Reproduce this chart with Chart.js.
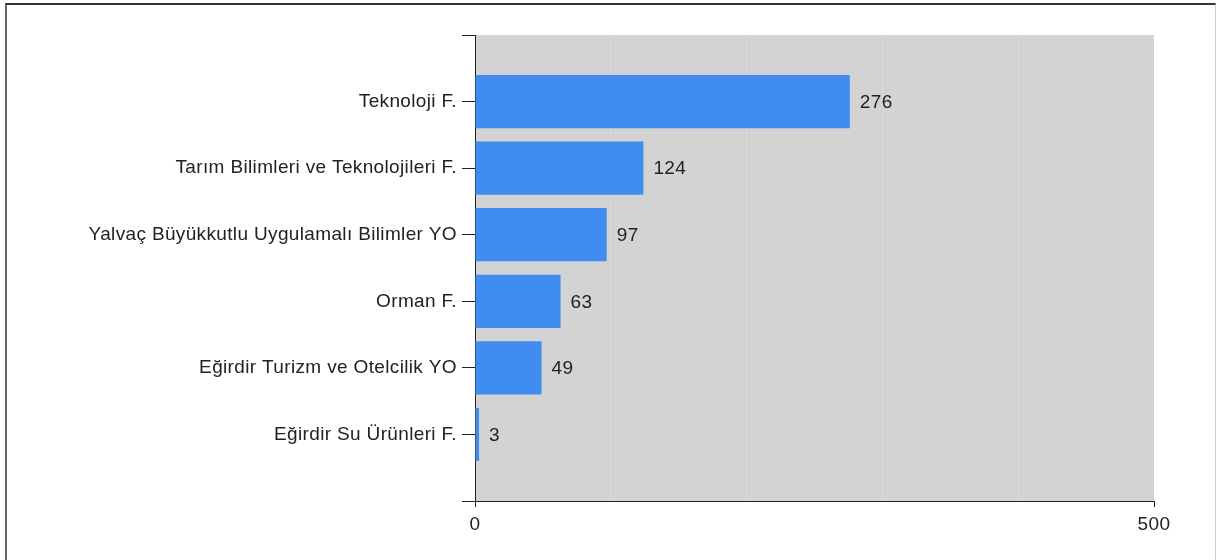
<!DOCTYPE html>
<html>
<head>
<meta charset="utf-8">
<script src="https://cdn.jsdelivr.net/npm/chart.js@4"></script>
<style>
  html, body { margin: 0; padding: 0; background: #fff; }
  #wrap { position: relative; width: 1216px; height: 560px; }
  #frame { position: absolute; left: 5px; top: 3px; width: 1208px; height: 570px;
           border-top: 2px solid #333; border-left: 2px solid #666; border-right: 1px solid #ccc; }
  canvas { position: absolute; left: 0; top: 0; }
</style>
</head>
<body>
<div id="wrap">
  <div id="frame"></div>
  <canvas id="chart" width="1216" height="560"></canvas>
</div>
<script>
// data
const faculties = ['Teknoloji F.', 'Tarım Bilimleri ve Teknolojileri F.', 'Yalvaç Büyükkutlu Uygulamalı Bilimler YO',
                   'Orman F.', 'Eğirdir Turizm ve Otelcilik YO', 'Eğirdir Su Ürünleri F.'];
const counts = [276, 124, 97, 63, 49, 3];
const xTicksShown = [0, 500];

// empty slots at top and bottom so the categories sit between the end ticks
const labels = [''].concat(faculties, ['']);
const values = [null].concat(counts, [null]);

const font = { family: 'Arial, "Liberation Sans", sans-serif', size: 19 };

const plotBg = {
    id: 'plotBg',
    beforeDraw(chart) {
        const ctx = chart.ctx;
        const a = chart.chartArea;
        // reference text is a bit wider than Liberation Sans
        ctx.letterSpacing = '0.35px';
        ctx.save();
        ctx.fillStyle = '#d3d3d3';
        ctx.fillRect(a.left, a.top, a.right - a.left, a.bottom - a.top);
        ctx.restore();
    }
};

const valueLabels = {
    id: 'valueLabels',
    afterDatasetsDraw(chart) {
        const ctx = chart.ctx;
        const meta = chart.getDatasetMeta(0);
        ctx.save();
        ctx.font = font.size + 'px ' + font.family;
        ctx.fillStyle = '#222';
        ctx.textBaseline = 'middle';
        meta.data.forEach((bar, i) => {
            const v = values[i];
            if (v == null) return;
            ctx.fillText(String(v), bar.x + 10, bar.y + 1);
        });
        ctx.restore();
    }
};

new Chart(document.getElementById('chart').getContext('2d'), {
    type: 'bar',
    data: {
        labels: labels,
        datasets: [{
            data: values,
            backgroundColor: '#418cf0',
            borderColor: '#5d9df2',
            borderWidth: 0,
            categoryPercentage: 1,
            barPercentage: 0.8
        }]
    },
    options: {
        indexAxis: 'y',
        responsive: false,
        animation: false,
        layout: { padding: { top: 35, right: 62, left: 0, bottom: 0 } },
        plugins: { legend: { display: false }, tooltip: { enabled: false } },
        scales: {
            y: {
                offset: false,
                afterFit(s) { s.width = 475; },
                grid: { offset: false, drawOnChartArea: false, drawTicks: true, tickLength: 13, color: '#222' },
                border: { display: true, color: '#222', width: 1 },
                ticks: { color: '#222', font: font, padding: 5, autoSkip: false }
            },
            x: {
                min: 0,
                max: 500,
                afterFit(s) { s.height = 59; },
                grid: {
                    drawTicks: true,
                    tickLength: 6,
                    color: ctx => xTicksShown.includes(ctx.tick && ctx.tick.value) ? 'rgba(0,0,0,0)' : '#e2e2e2',
                    tickColor: ctx => xTicksShown.includes(ctx.tick && ctx.tick.value) ? '#222' : 'rgba(0,0,0,0)'
                },
                border: { display: true, color: '#222', width: 1, dash: [2, 2] },
                ticks: {
                    stepSize: 100,
                    color: '#222',
                    font: font,
                    padding: 6,
                    maxRotation: 0,
                    callback: v => xTicksShown.includes(v) ? String(v) : ''
                }
            }
        }
    },
    plugins: [plotBg, valueLabels]
});
</script>
</body>
</html>
